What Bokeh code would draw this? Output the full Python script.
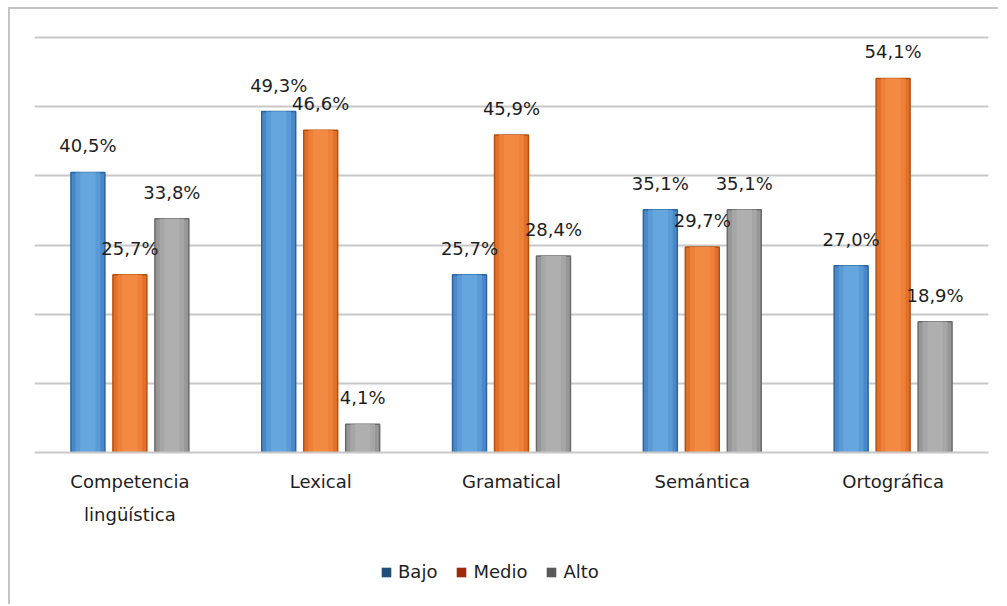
from bokeh.plotting import figure
from bokeh.models import ColumnDataSource, LabelSet, Legend, LegendItem, FactorRange
from bokeh.layouts import column
from bokeh.transform import dodge
from bokeh.core.properties import value
from bokeh.embed import file_html
from bokeh.resources import INLINE

categories = ["Competencia\nlingüística", "Lexical", "Gramatical", "Semántica", "Ortográfica"]
series = ["Bajo", "Medio", "Alto"]
bajo = [40.5, 49.3, 25.7, 35.1, 27.0]
medio = [25.7, 46.6, 45.9, 29.7, 54.1]
alto = [33.8, 4.1, 28.4, 35.1, 18.9]
grid_ticks = [0, 10, 20, 30, 40, 50, 60]

# layered shades per series: edge, outer fill, middle fill, center fill
shades = [
    ["#2A64A0", "#4A88C8", "#5A9AD6", "#66A6DE"],
    ["#B5500C", "#E0702A", "#EE8038", "#F28A44"],
    ["#6A6A6A", "#979797", "#A6A6A6", "#AFAFAF"],
]
legend_colors = ["#1F4E79", "#9E2A0B", "#595959"]
offsets = [-0.22, 0.0, 0.22]
FONT = "DejaVu Sans"
TXT = "#1E1E1E"
W = 988

def fmt(v):
    return f"{v:.1f}%".replace(".", ",")

p = figure(x_range=FactorRange(factors=categories, range_padding=0.0), y_range=(0, 60.3),
           width=W, height=531, output_backend="svg", toolbar_location=None,
           min_border_left=24, min_border_right=10, min_border_top=26, min_border_bottom=88)

p.outline_line_color = None
p.xgrid.grid_line_color = None
p.ygrid.grid_line_color = "#c8c8c8"
p.ygrid.grid_line_width = 2
p.yaxis.visible = False
p.yaxis.ticker = grid_ticks

p.xaxis.axis_line_color = "#c8c8c8"
p.xaxis.axis_line_width = 2
p.xaxis.major_tick_line_color = None
p.xaxis.minor_tick_line_color = None
p.xaxis.major_label_text_font = FONT
p.xaxis.major_label_text_font_size = "18px"
p.xaxis.major_label_text_color = TXT
p.xaxis.major_label_text_line_height = 1.6
p.xaxis.major_label_standoff = 12

for vals, sh, off in zip([bajo, medio, alto], shades, offsets):
    src = ColumnDataSource(dict(x=categories, top=vals, label=[fmt(v) for v in vals]))
    xs = dodge("x", off, range=p.x_range)
    p.vbar(x=xs, top="top", width=0.178, source=src,
           fill_color=sh[1], line_color=sh[0], line_width=1.5)
    p.vbar(x=xs, top="top", width=0.13, source=src, fill_color=sh[2], line_color=None)
    p.vbar(x=xs, top="top", width=0.08, source=src, fill_color=sh[3], line_color=None)
    labels = LabelSet(x=xs, y="top", text="label", source=src,
                      text_align="center", text_baseline="bottom", y_offset=16,
                      text_font=value(FONT), text_font_size=value("18px"), text_color=TXT)
    p.add_layout(labels)

# legend strip below the chart (its helper glyphs sit outside the visible range)
lf = figure(width=W, height=64, output_backend="svg", toolbar_location=None,
            x_range=(0, 1), y_range=(0, 1),
            min_border_left=0, min_border_right=0, min_border_top=0, min_border_bottom=0)
lf.axis.visible = False
lf.grid.visible = False
lf.outline_line_color = None
items = []
for name, lc in zip(series, legend_colors):
    r = lf.rect(x=[-5], y=[-5], width=0.1, height=0.1, fill_color=lc, line_color=None)
    items.append(LegendItem(label=name, renderers=[r]))
legend = Legend(items=items, orientation="horizontal", location=(346, 22),
                label_text_font=FONT, label_text_font_size="18px", label_text_color=TXT,
                glyph_width=12, glyph_height=12, spacing=18, border_line_color=None,
                background_fill_alpha=0, margin=0, padding=0, label_standoff=6)
lf.add_layout(legend)

layout = column(p, lf, spacing=0)
layout.styles = {"border-left": "2px solid #c4c4c4", "border-top": "2px solid #c4c4c4",
                 "position": "relative", "left": "8px", "top": "7px"}

open("out.html", "w").write(file_html(layout, INLINE))
